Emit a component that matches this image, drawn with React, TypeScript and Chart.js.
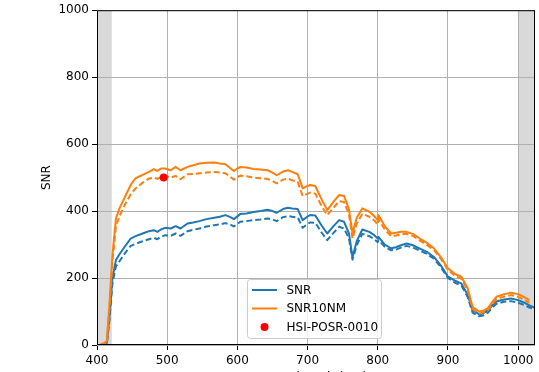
import React, { useEffect, useRef } from "react";
import { Chart, registerables } from "chart.js";

Chart.register(...registerables);

const wavelengths = [
  405, 410, 414, 418, 422, 427, 432, 440, 448, 455,
  465, 474, 481, 486, 491, 497, 505, 512, 519, 529,
  537, 546, 556, 567, 575, 583, 590, 595, 604, 613,
  623, 633, 643, 650, 656, 665, 672, 678, 686, 693,
  700, 704, 711, 720, 728, 737, 745, 752, 759, 764,
  770, 778, 788, 795, 800, 801, 810, 819, 826, 833,
  841, 850, 860, 870, 880, 890, 900, 910, 919, 928,
  935, 944, 950, 957, 963, 969, 980, 990, 1000, 1008,
  1016, 1023,
];

const snr = [
  0, 2, 6, 90, 200, 254, 271, 295, 318, 325,
  333, 340, 343, 338, 345, 350, 348, 355, 348, 363,
  366, 370, 376, 380, 383, 388, 382, 376, 391, 393,
  397, 400, 404, 400, 395, 406, 410, 408, 406, 373,
  384, 388, 387, 357, 333, 355, 373, 368, 333, 262,
  310, 345, 338, 328, 318, 323, 300, 289, 292, 298,
  303, 298, 288, 278, 263, 237, 204, 192, 184, 150,
  104, 92, 94, 104, 118, 130, 136, 139, 134, 127,
  118, 112,
];

const snrDashed = [
  0, 0, 3, 80, 185, 235, 250, 275, 296, 302,
  310, 316, 320, 316, 323, 328, 326, 333, 326, 340,
  344, 348, 354, 358, 360, 364, 360, 354, 368, 370,
  373, 375, 378, 375, 370, 382, 385, 383, 381, 350,
  362, 366, 365, 336, 313, 335, 353, 348, 318, 255,
  298, 332, 325, 316, 307, 313, 293, 283, 285, 291,
  296, 291, 282, 272, 258, 232, 200, 186, 178, 144,
  97, 86, 88, 97, 111, 123, 129, 131, 126, 120,
  112, 108,
];

const snr10nm = [
  2, 5, 12, 130, 269, 378, 408, 443, 478, 498,
  508, 517, 525, 520, 527, 527, 522, 532, 522, 532,
  537, 542, 544, 545, 542, 540, 528, 520, 532, 530,
  526, 524, 522, 515, 507, 518, 522, 517, 510, 468,
  475, 478, 475, 435, 403, 428, 448, 445, 405, 333,
  380, 408, 398, 385, 373, 388, 355, 333, 335, 338,
  338, 332, 318, 305, 289, 262, 229, 212, 204, 170,
  114, 100, 102, 110, 128, 144, 152, 156, 152, 144,
  134, null,
];

const snr10nmDashed = [
  0, 3, 8, 115, 250, 355, 385, 420, 450, 468,
  485, 497, 500, 496, 502, 505, 500, 505, 495, 510,
  511, 513, 515, 517, 515, 513, 502, 494, 506, 504,
  500, 498, 496, 490, 483, 494, 497, 492, 487, 445,
  452, 455, 452, 415, 388, 410, 430, 427, 390, 318,
  363, 392, 383, 372, 360, 375, 345, 325, 327, 331,
  332, 326, 312, 299, 284, 257, 225, 206, 198, 164,
  108, 94, 96, 104, 121, 137, 145, 149, 144, 136,
  126, null,
];

const sampleWavelength = [495];
const sampleSnr = [500];

const xMin = 400;
const xMax = 1024;
const xStep = 100;
const yMin = 0;
const yMax = 1000;
const yStep = 200;
const shadedRanges = [
  [400, 421],
  [1000, 1024],
];

const FONT = "'DejaVu Sans', sans-serif";
const BLUE = "#1f77b4";
const ORANGE = "#ff7f0e";

function toPoints(xs: number[], ys: (number | null)[]) {
  const out: { x: number; y: number }[] = [];
  xs.forEach((x, i) => {
    const y = ys[i];
    if (y !== null && y !== undefined) out.push({ x, y });
  });
  return out;
}

const shadePlugin = {
  id: "shade",
  beforeDraw(chart: any) {
    const { ctx, chartArea, scales } = chart;
    ctx.save();
    ctx.fillStyle = "#d9d9d9";
    shadedRanges.forEach(([a, b]) => {
      const x1 = Math.max(scales.x.getPixelForValue(a), chartArea.left);
      const x2 = Math.min(scales.x.getPixelForValue(b), chartArea.right);
      ctx.fillRect(x1, chartArea.top, x2 - x1, chartArea.bottom - chartArea.top);
    });
    ctx.restore();
  },
};

const spinePlugin = {
  id: "spines",
  afterDatasetsDraw(chart: any) {
    const { ctx, chartArea } = chart;
    ctx.save();
    ctx.strokeStyle = "#000";
    ctx.lineWidth = 1;
    ctx.strokeRect(
      chartArea.left + 0.5,
      chartArea.top + 0.5,
      chartArea.right - chartArea.left - 1,
      chartArea.bottom - chartArea.top - 1
    );
    ctx.restore();
  },
};

const legendPlugin = {
  id: "boxLegend",
  afterDraw(chart: any) {
    const { ctx } = chart;
    const items = chart.data.datasets.filter((d: any) => d.label);
    const bx = 247;
    const by = 279;
    const bw = 134;
    const bh = 59;
    ctx.save();
    ctx.beginPath();
    ctx.roundRect(bx + 0.5, by + 0.5, bw, bh, 3);
    ctx.fillStyle = "rgba(255,255,255,0.8)";
    ctx.fill();
    ctx.strokeStyle = "#cccccc";
    ctx.lineWidth = 1;
    ctx.stroke();
    items.forEach((d: any, i: number) => {
      const cy = by + 11 + i * 18.5;
      if (d.showLine === false) {
        ctx.beginPath();
        ctx.arc(bx + 17.5, cy, 4, 0, Math.PI * 2);
        ctx.fillStyle = d.backgroundColor;
        ctx.fill();
      } else {
        ctx.beginPath();
        ctx.moveTo(bx + 5, cy);
        ctx.lineTo(bx + 30, cy);
        ctx.strokeStyle = d.borderColor;
        ctx.lineWidth = 2;
        ctx.stroke();
      }
      ctx.fillStyle = "#000";
      ctx.font = `12px ${FONT}`;
      ctx.textBaseline = "middle";
      ctx.textAlign = "left";
      ctx.fillText(d.label, bx + 39.5, cy + 0.5);
    });
    ctx.restore();
  },
};

export default function App() {
  const ref = useRef<HTMLCanvasElement | null>(null);

  useEffect(() => {
    if (!ref.current) return;
    const lineBase = {
      type: "line" as const,
      pointRadius: 0,
      borderWidth: 2,
      tension: 0,
      fill: false,
      borderJoinStyle: "round" as const,
    };
    const chart = new Chart(ref.current, {
      type: "line",
      data: {
        datasets: [
          {
            ...lineBase,
            label: "",
            data: toPoints(wavelengths, snrDashed),
            borderColor: BLUE,
            borderDash: [6, 3],
            order: 5,
          },
          {
            ...lineBase,
            label: "SNR",
            data: toPoints(wavelengths, snr),
            borderColor: BLUE,
            order: 4,
          },
          {
            ...lineBase,
            label: "",
            data: toPoints(wavelengths, snr10nmDashed),
            borderColor: ORANGE,
            borderDash: [6, 3],
            order: 3,
          },
          {
            ...lineBase,
            label: "SNR10NM",
            data: toPoints(wavelengths, snr10nm),
            borderColor: ORANGE,
            order: 2,
          },
          {
            type: "line" as const,
            label: "HSI-POSR-0010",
            data: toPoints(sampleWavelength, sampleSnr),
            showLine: false,
            pointRadius: 4,
            pointBorderWidth: 0,
            backgroundColor: "red",
            borderColor: "red",
            order: 1,
          },
        ] as any,
      },
      options: {
        responsive: false,
        animation: false,
        devicePixelRatio: 1,
        layout: { padding: { left: 0, right: 3, top: 9, bottom: 0 } },
        plugins: {
          legend: { display: false },
          tooltip: { enabled: false },
          title: { display: false },
        },
        scales: {
          x: {
            type: "linear",
            min: xMin,
            max: xMax,
            afterFit: (s: any) => {
              s.height = 45;
            },
            ticks: {
              stepSize: xStep,
              includeBounds: false,
              color: "#000",
              font: { family: FONT, size: 12 },
              padding: 4,
              maxRotation: 0,
              callback: (v: any) => String(v),
            },
            grid: {
              color: "#b0b0b0",
              lineWidth: 1,
              tickColor: "#000",
              tickLength: 5,
            },
            border: { display: false },
            title: {
              display: true,
              text: "wavelength (nm)",
              color: "#000",
              font: { family: FONT, size: 12 },
              padding: { top: 0, bottom: 4.5 },
            },
          },
          y: {
            type: "linear",
            min: yMin,
            max: yMax,
            afterFit: (s: any) => {
              s.width = 97;
            },
            ticks: {
              stepSize: yStep,
              color: "#000",
              font: { family: FONT, size: 12 },
              padding: 3,
              callback: (v: any) => String(v),
            },
            grid: {
              color: "#b0b0b0",
              lineWidth: 1,
              tickColor: "#000",
              tickLength: 5,
            },
            border: { display: false },
            title: {
              display: true,
              text: "SNR",
              color: "#000",
              font: { family: FONT, size: 12 },
              padding: { top: 40, bottom: 0 },
            },
          },
        },
      } as any,
      plugins: [shadePlugin, spinePlugin, legendPlugin],
    });
    return () => chart.destroy();
  }, []);

  return (
    <div
      style={{
        position: "fixed",
        left: 0,
        top: 0,
        width: 539,
        height: 372,
        overflow: "hidden",
        background: "#fff",
      }}
    >
      <canvas
        ref={ref}
        width={539}
        height={390}
        style={{ display: "block", width: 539, height: 390 }}
      />
    </div>
  );
}
